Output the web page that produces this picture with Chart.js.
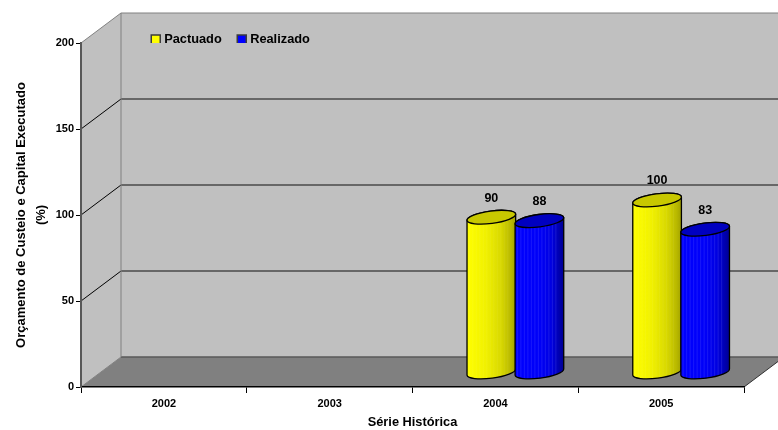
<!DOCTYPE html>
<html>
<head>
<meta charset="utf-8">
<style>
html,body{margin:0;padding:0;background:#fff;}
canvas{display:block;}
</style>
<script src="https://cdn.jsdelivr.net/npm/chart.js@4"></script>
</head>
<body>
<canvas id="chart" width="778" height="430"></canvas>
<script>
// dados
const categories = ["2002","2003","2004","2005"];
const pactuado = [null,null,90,100];
const realizado = [null,null,88,83];
const yTicks = [0,50,100,150,200];

const FONT = "'Liberation Sans', Arial, sans-serif";

// cilindro: profundidade do grafico 3D
const depthX = 40;
const depthY = 30;
const tilt = -0.13;
const ellipseH = 6.2;

const bodyColors = [
  [[0,"#ffff00"],[0.4,"#f0f000"],[0.7,"#d8d800"],[0.9,"#b8b800"],[1,"#a0a000"]],
  [[0,"#0000ff"],[0.5,"#0000f8"],[0.75,"#0000e0"],[0.9,"#0000b0"],[1,"#000090"]]
];
const stripeColors = ["rgba(255,255,255,0.05)","rgba(150,150,255,0.16)"];
const capColors = ["#c8c800","#0000c0"];

// paredes e piso
const wallsPlugin = {
  id:"walls",
  beforeDraw(chart){
    const {ctx,chartArea:a,scales} = chart;
    const bx = a.left+depthX;
    const rx = a.right+depthX;
    const by = a.bottom-depthY;
    const ty = a.top-depthY;
    ctx.save();
    ctx.fillStyle = "#c0c0c0";
    ctx.beginPath();
    ctx.moveTo(a.left,a.bottom);
    ctx.lineTo(a.left,a.top);
    ctx.lineTo(bx,ty);
    ctx.lineTo(rx,ty);
    ctx.lineTo(rx,by);
    ctx.lineTo(bx,by);
    ctx.closePath();
    ctx.fill();

    // piso
    ctx.fillStyle = "#808080";
    ctx.beginPath();
    ctx.moveTo(a.left,a.bottom);
    ctx.lineTo(a.right,a.bottom);
    ctx.lineTo(rx,by);
    ctx.lineTo(bx,by);
    ctx.closePath();
    ctx.fill();

    // grade
    yTicks.forEach(v=>{
      const y = scales.y.getPixelForValue(v);
      const edge = v===0 || v===200;
      ctx.lineWidth = 1;
      ctx.strokeStyle = edge ? "#808080" : "#000000";
      ctx.beginPath();
      ctx.moveTo(a.left,y);
      ctx.lineTo(bx,y-depthY);
      ctx.stroke();
      ctx.strokeStyle = v===0 ? "#585858" : (v===200 ? "#808080" : "#4a4a4a");
      ctx.lineWidth = v===200 ? 1 : 1.5;
      ctx.beginPath();
      ctx.moveTo(bx,y-depthY);
      ctx.lineTo(rx,y-depthY);
      ctx.stroke();
    });

    ctx.strokeStyle = "#808080";
    ctx.lineWidth = 1;
    ctx.beginPath();
    ctx.moveTo(bx,ty);
    ctx.lineTo(bx,by);
    ctx.stroke();

    ctx.strokeStyle = "#303030";
    ctx.beginPath();
    ctx.moveTo(a.right,a.bottom);
    ctx.lineTo(rx,by);
    ctx.stroke();
    ctx.restore();
  }
};

function drawCylinder(ctx,el,base,dsIndex){
  const cx = el.x+depthX/2;
  const r = el.width/2+0.5;
  const top = el.y-depthY/2;
  const bottom = base-depthY/2;
  const g = ctx.createLinearGradient(cx-r,0,cx+r,0);
  bodyColors[dsIndex].forEach(s=>g.addColorStop(s[0],s[1]));

  const body = new Path2D();
  body.ellipse(cx,bottom,r,ellipseH,tilt,0,Math.PI);
  body.ellipse(cx,top,r,ellipseH,tilt,Math.PI,Math.PI*2);
  body.closePath();
  ctx.fillStyle = g;
  ctx.fill(body);

  // faixas verticais do preenchimento
  ctx.save();
  ctx.clip(body);
  ctx.fillStyle = stripeColors[dsIndex];
  for(let x=cx-r+2;x<cx+r-6;x+=3.5){
    ctx.fillRect(x,top-10,1,bottom-top+20);
  }
  ctx.restore();

  ctx.lineWidth = 1.3;
  ctx.strokeStyle = "#000000";
  ctx.stroke(body);

  ctx.beginPath();
  ctx.ellipse(cx,top,r,ellipseH,tilt,0,Math.PI*2);
  ctx.fillStyle = capColors[dsIndex];
  ctx.fill();
  ctx.stroke();
}

// cilindros e rotulos, a partir dos elementos de barra
const cylinderPlugin = {
  id:"cylinders",
  beforeDatasetDraw(){
    return false;
  },
  afterDatasetsDraw(chart){
    const {ctx} = chart;
    const base = chart.scales.y.getPixelForValue(0);
    ctx.save();
    chart.data.datasets.forEach((ds,d)=>{
      chart.getDatasetMeta(d).data.forEach((el,i)=>{
        if(ds.data[i]===null) return;
        drawCylinder(ctx,el,base,d);
      });
    });
    ctx.fillStyle = "#000000";
    ctx.font = "bold 12.5px "+FONT;
    ctx.textAlign = "center";
    ctx.textBaseline = "middle";
    chart.data.datasets.forEach((ds,d)=>{
      chart.getDatasetMeta(d).data.forEach((el,i)=>{
        if(ds.data[i]===null) return;
        ctx.fillText(ds.data[i],el.x+depthX/2,el.y-depthY/2-19);
      });
    });
    ctx.restore();
  }
};

// legenda dentro da parede do fundo
const legendMove = {
  id:"legendMove",
  afterLayout(chart){
    const l = chart.legend;
    l.left = 135.75;
    l.right = 500;
    l.top = 15;
    l.bottom = 43;
  }
};

new Chart(document.getElementById("chart"),{
  type:"bar",
  data:{
    labels:categories,
    datasets:[
      {label:"Pactuado",data:pactuado,backgroundColor:"#ffff00",borderColor:"#3c3c3c",borderWidth:1.5},
      {label:"Realizado",data:realizado,backgroundColor:"#0000ff",borderColor:"#3c3c3c",borderWidth:1.5}
    ]
  },
  plugins:[wallsPlugin,cylinderPlugin,legendMove],
  options:{
    responsive:false,
    animation:false,
    layout:{padding:{left:0,right:34,top:2.2,bottom:0}},
    datasets:{bar:{categoryPercentage:0.58,barPercentage:1}},
    plugins:{
      tooltip:{enabled:false},
      legend:{
        position:"top",
        align:"start",
        labels:{
          color:"#000000",
          font:{family:FONT,size:12.8,weight:"bold"},
          usePointStyle:true,
          pointStyle:"rect",
          boxWidth:4,
          boxHeight:9,
          padding:18
        }
      }
    },
    scales:{
      x:{
        afterFit(s){s.height = 43;},
        grid:{drawOnChartArea:false,tickLength:6,tickColor:"#000000",offset:true},
        border:{color:"#000000",width:1.5},
        ticks:{color:"#000000",font:{family:FONT,size:11,weight:"bold"},padding:4,maxRotation:0},
        title:{display:true,text:"Série Histórica",color:"#000000",font:{family:FONT,size:12.8,weight:"bold"},padding:{top:2,bottom:0}}
      },
      y:{
        min:0,
        max:200,
        afterFit(s){s.width = 81;},
        afterBuildTicks(s){s.ticks = yTicks.map(v=>({value:v}));},
        grid:{drawOnChartArea:false,tickLength:5,tickColor:"#000000"},
        border:{color:"#585858",width:2},
        ticks:{color:"#000000",font:{family:FONT,size:11,weight:"bold"},padding:2},
        title:{display:true,text:["Orçamento de Custeio e Capital Executado","(%)"],color:"#000000",font:{family:FONT,size:13,weight:"bold",lineHeight:1.55},padding:{top:11.5,bottom:0}}
      }
    }
  }
});
</script>
</body>
</html>
